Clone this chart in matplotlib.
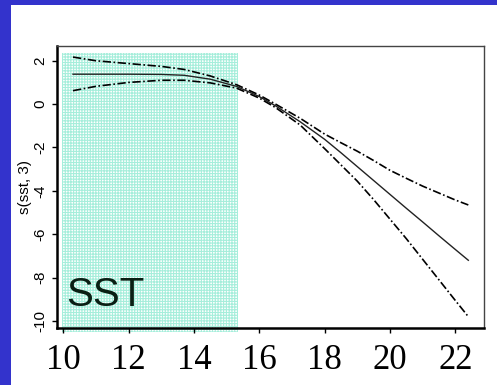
import matplotlib.pyplot as plt
from matplotlib.patches import Rectangle

plt.rcParams['hatch.linewidth'] = 0.8

# Valores (s(sst, 3) con bandas de error)
sst = [10.3, 11.0, 12.0, 13.0, 13.7, 14.5, 15.3, 16.0, 16.5, 17.25,
       18.0, 18.5, 19.0, 19.5, 20.0, 20.5, 21.0, 21.5, 22.0, 22.4]
ajuste = [1.38, 1.38, 1.38, 1.37, 1.33, 1.15, 0.82, 0.35, -0.08, -0.81,
          -1.62, -2.24, -2.88, -3.52, -4.16, -4.8, -5.43, -6.07, -6.7, -7.2]
superior = [2.17, 2.0, 1.87, 1.74, 1.6, 1.3, 0.9, 0.42, 0.0, -0.65,
            -1.38, -1.78, -2.17, -2.6, -3.05, -3.42, -3.78, -4.1, -4.42, -4.65]
inferior = [0.62, 0.82, 1.0, 1.1, 1.1, 0.98, 0.74, 0.28, -0.16, -0.96,
            -2.05, -2.8, -3.55, -4.4, -5.3, -6.2, -7.15, -8.1, -9.05, -9.8]

# Zona sombreada (rango de SST)
zona_x = (9.96, 15.35)
zona_y = (-10.5, 2.36)

xticks = [10, 12, 14, 16, 18, 20, 22]
yticks = [2, 0, -2, -4, -6, -8, -10]

fig = plt.figure(figsize=(4.97, 3.85), dpi=100)
fig.patch.set_facecolor('#3333cc')
# fondo blanco (deja el borde azul arriba e izquierda)
fondo = Rectangle((11 / 497, 0), 1, 1 - 5 / 385, transform=fig.transFigure,
                  facecolor='white', edgecolor='none', zorder=-5)
fig.add_artist(fondo)

ax = fig.add_axes([57 / 497, 1 - 327.5 / 385, (484 - 57) / 497, (327.5 - 46) / 385])
ax.set_zorder(2)
ax.set_facecolor('white')
ax.set_xlim(9.81, 22.88)
ax.set_ylim(-10.3, 2.68)

ax.add_patch(Rectangle((zona_x[0], zona_y[0]), zona_x[1] - zona_x[0], zona_y[1] - zona_y[0],
                       facecolor='white', edgecolor='#a6eedb', hatch='++++++',
                       linewidth=0, clip_on=False, zorder=1))

ax.plot(sst, ajuste, color='#222222', lw=1.0, zorder=3)
ax.plot(sst, superior, color='black', lw=1.2, ls=(0, (5, 1.5, 1, 1.5)), zorder=3)
ax.plot(sst, inferior, color='black', lw=1.2, ls=(0, (5, 1.5, 1, 1.5)), zorder=3)

ax.text(10.1, -9.3, 'SST', fontsize=29, family='Liberation Sans', color='#0a1f14', zorder=4)

ax.set_xticks(xticks)
ax.set_xticklabels([str(t) for t in xticks], family='Liberation Serif', fontsize=25)
ax.set_yticks(yticks)
ax.set_yticklabels([str(t) for t in yticks], family='Liberation Sans', fontsize=11,
                   rotation=90, va='center')
ax.tick_params(axis='x', direction='out', length=3.6, width=1, pad=8)
ax.tick_params(axis='y', direction='out', length=3.6, width=1, pad=3.5)
ax.set_ylabel('s(sst, 3)', family='Liberation Sans', fontsize=11)
ax.yaxis.set_label_coords(-25 / 427, 0.5)

for lado in ['left', 'bottom']:
    ax.spines[lado].set_linewidth(1.8)
    ax.spines[lado].set_color('black')
for lado in ['top', 'right']:
    ax.spines[lado].set_linewidth(1.0)
    ax.spines[lado].set_color('#444444')

plt.savefig('out.png', dpi=100, facecolor=fig.get_facecolor())
